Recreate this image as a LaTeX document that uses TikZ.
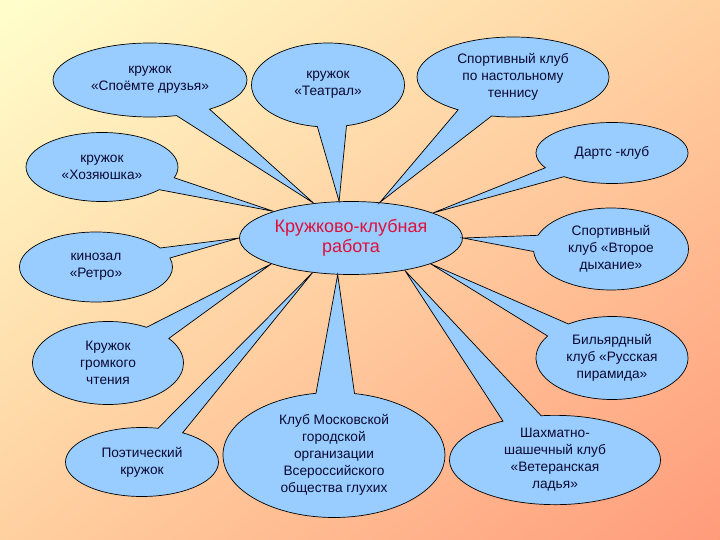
\documentclass[tikz,border=0pt]{standalone}
\usepackage{fontspec}
\setmainfont{Liberation Sans}
\usetikzlibrary{shapes.callouts,shapes.geometric,shadings}
\definecolor{bubbleblue}{RGB}{153,204,255}
\definecolor{hubred}{RGB}{222,16,60}
\definecolor{ink}{RGB}{10,10,50}
\definecolor{paleyellow}{RGB}{255,255,204}
\definecolor{peach}{RGB}{255,208,160}
\definecolor{salmon}{RGB}{255,155,122}
\begin{document}
\begin{tikzpicture}[
		x=1pt, y=-1pt,
		every node/.style={draw=black, line width=0.7pt, fill=bubbleblue, align=center, inner sep=0pt, text=ink, font=\fontsize{13.7}{17}\selectfont},
		hub/.style={ellipse, minimum width=223pt, minimum height=73pt, text=hubred, font=\fontsize{18}{20}\selectfont},
		club/.style n args={3}{ellipse callout, callout pointer arc=#1, minimum width=#2, minimum height=#3}
		]
		
		% background
		\shade[upper left=paleyellow, upper right=peach, lower left=peach, lower right=salmon] (0,0) rectangle (720,540);
		
		\node[hub] (hub) at (351,238) {Кружково-клубная\\работа};
		
		\node[club={22}{194pt}{74pt}, callout absolute pointer={(hub.137)}] (singing) at (150,80) {кружок\\«Споёмте друзья»};
		\node[club={22}{153pt}{84pt}, callout absolute pointer={(hub.108)}] (theatre) at (328,85) {кружок\\«Театрал»};
		\node[club={22}{192pt}{80pt}, callout absolute pointer={(hub.51)}] (tennis) at (513,77) {Спортивный клуб\\по настольному\\теннису};
		\node[club={23}{152pt}{69pt}, callout absolute pointer={(hub.161)}] (housewife) at (102,167) {кружок\\«Хозяюшка»};
		\node[club={22}{152pt}{61pt}, callout absolute pointer={(hub.17)}] (darts) at (612,153) {Дартс -клуб};
		\node[club={18}{153pt}{70pt}, callout absolute pointer={(hub.180)}] (cinema) at (96,267) {кинозал\\«Ретро»};
		\node[club={23}{155pt}{82pt}, callout absolute pointer={(hub.0)}] (breath) at (611,249) {Спортивный\\клуб «Второе\\дыхание»};
		\node[club={23}{151pt}{83pt}, callout absolute pointer={(hub.-162)}] (reading) at (108,363) {Кружок\\громкого\\чтения};
		\node[club={23}{152pt}{83pt}, callout absolute pointer={(hub.-18)}] (billiards) at (612,358) {Бильярдный\\клуб «Русская\\пирамида»};
		\node[club={20}{153pt}{69pt}, callout absolute pointer={(hub.-138)}] (poetry) at (142,462) {Поэтический\\кружок};
		\node[club={20}{222pt}{125pt}, callout absolute pointer={(hub.-110)}] (deaf) at (334,455) {Клуб Московской\\городской\\организации\\Всероссийского\\общества глухих};
		\node[club={22}{211pt}{85pt}, callout absolute pointer={(hub.-31)}] (chess) at (555,460) {Шахматно-\\шашечный клуб\\«Ветеранская\\ладья»};
		
	\end{tikzpicture}
\end{document}
